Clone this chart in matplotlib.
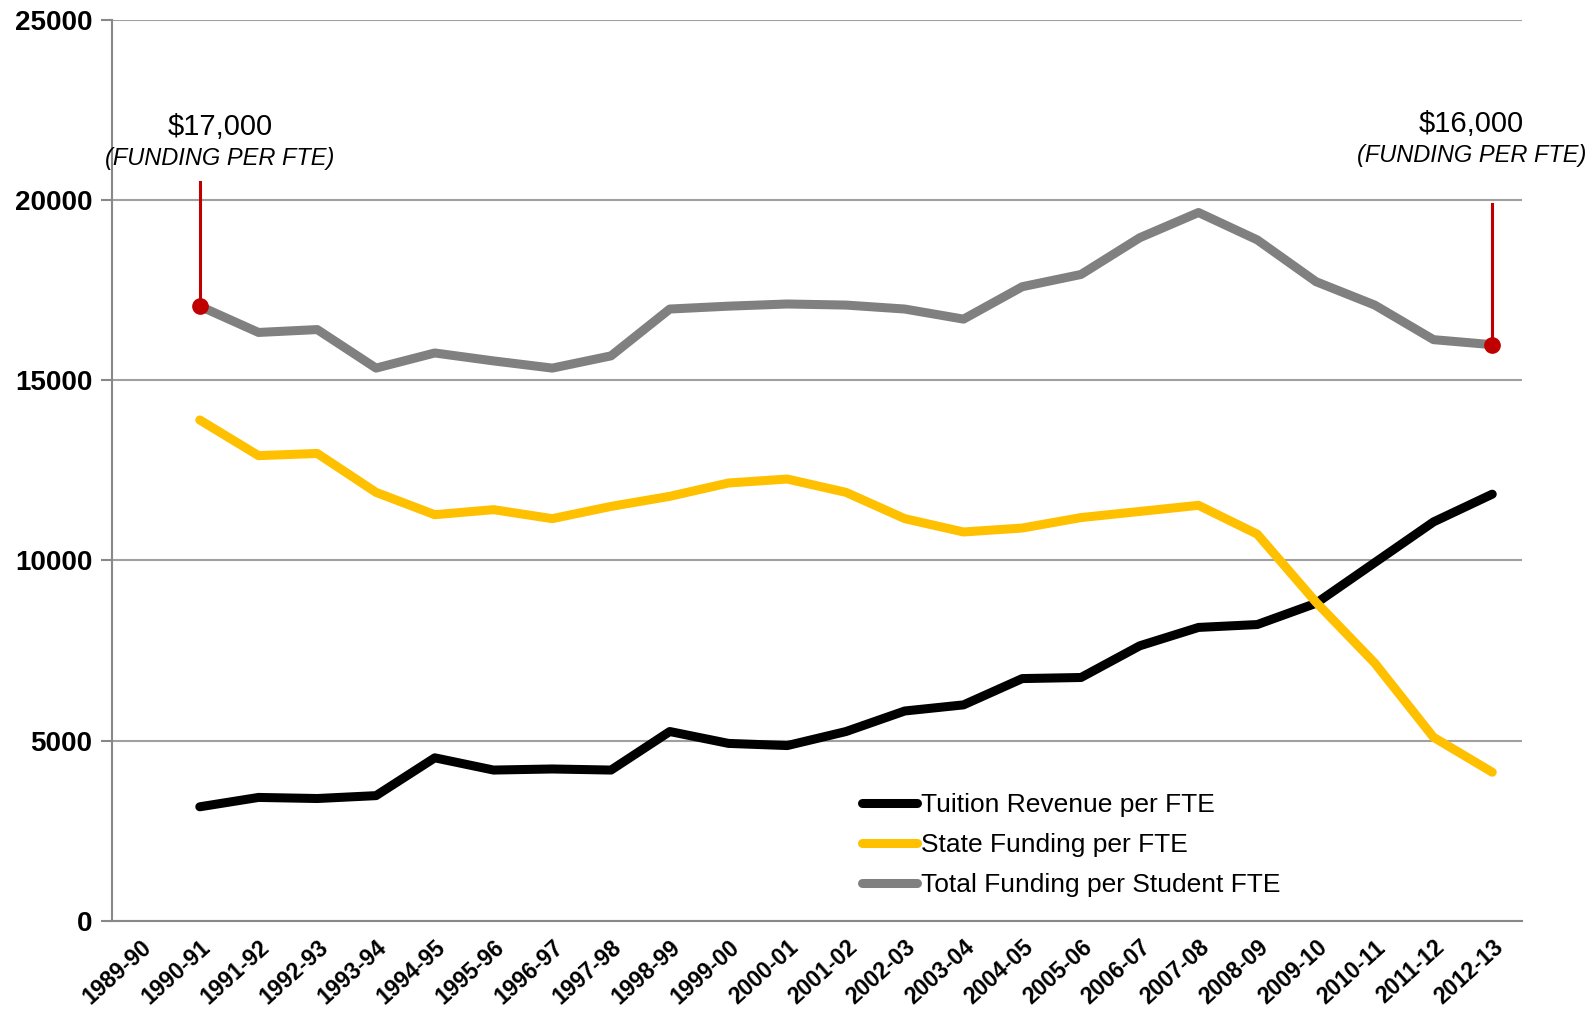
import numpy as np
import matplotlib
matplotlib.use("Agg")
import matplotlib.pyplot as plt

plt.rcParams['font.family'] = ['Liberation Sans', 'DejaVu Sans']

years = ['1989-90', '1990-91', '1991-92', '1992-93', '1993-94', '1994-95', '1995-96',
         '1996-97', '1997-98', '1998-99', '1999-00', '2000-01', '2001-02', '2002-03',
         '2003-04', '2004-05', '2005-06', '2006-07', '2007-08', '2008-09', '2009-10',
         '2010-11', '2011-12', '2012-13']

# series start in 1990-91 (first category left empty)
tuition = [3160, 3420, 3390, 3470, 4520, 4180, 4210, 4180, 5250, 4920, 4860, 5250,
           5820, 5990, 6720, 6750, 7630, 8140, 8220, 8810, 9940, 11070, 11840]
state = [13900, 12910, 12970, 11890, 11270, 11410, 11160, 11500, 11780, 12150, 12260,
         11890, 11160, 10790, 10900, 11190, 11360, 11530, 10730, 8840, 7150, 5090, 4120]
total = [17060, 16330, 16410, 15340, 15760, 15540, 15340, 15680, 16980, 17060, 17120,
         17090, 16980, 16700, 17600, 17940, 18960, 19660, 18900, 17740, 17090, 16130, 15990]

# (label, category index, value, top of red line, text x, text y)
callouts = [('$17,000', 1, 17060, 20500, 1.34, 22030),
            ('$16,000', 23, 15990, 19900, 22.65, 22120)]

fig = plt.figure(figsize=(15.95, 10.09), dpi=100)
ax = fig.add_axes([0.070, 0.0876, 0.884, 0.8924])

x = np.arange(1, len(years))
ax.plot(x, tuition, color='black', lw=6.5, solid_capstyle='round', solid_joinstyle='round',
        label='Tuition Revenue per FTE', zorder=3)
ax.plot(x, state, color='#FFC000', lw=6.5, solid_capstyle='round', solid_joinstyle='round',
        label='State Funding per FTE', zorder=3)
ax.plot(x, total, color='#808080', lw=6.5, solid_capstyle='round', solid_joinstyle='round',
        label='Total Funding per Student FTE', zorder=3)

ax.set_xlim(-0.5, len(years) - 0.5)
ax.set_ylim(0, 25000)
ax.set_yticks(np.arange(0, 25001, 5000))
ax.set_xticks(np.arange(len(years)))
ax.set_xticklabels(years, rotation=42, ha='right', va='top', rotation_mode='anchor',
                   fontsize=16.5, fontweight='bold')
for lab in ax.get_yticklabels():
    lab.set_fontweight('bold')
ax.tick_params(axis='y', labelsize=20, length=8, color='#888888', width=1.5, pad=6)
ax.tick_params(axis='x', length=0, pad=11)

ax.grid(axis='y', color='#a0a0a0', lw=1.5)
ax.set_axisbelow(True)
for s in ['top', 'right']:
    ax.spines[s].set_visible(False)
for s in ['left', 'bottom']:
    ax.spines[s].set_color('#888888')
    ax.spines[s].set_linewidth(1.5)

# red callouts
for txt, xi, yv, ytop, tx, ty in callouts:
    ax.plot([xi, xi], [yv, ytop], color='#C00000', lw=2.2, zorder=4)
    ax.plot(xi, yv, 'o', color='#C00000', ms=11, zorder=5)
    ax.text(tx, ty, txt, ha='center', va='center', fontsize=21)
    ax.text(tx, ty - 870, '(FUNDING PER FTE)', ha='center', va='center', fontsize=17,
            style='italic', clip_on=False)

ax.legend(loc='lower left', bbox_to_anchor=(0.515, 0.0), frameon=False, fontsize=19,
          handlelength=2.1, handletextpad=0.15, labelspacing=0.6)

plt.savefig('out.png', dpi=100)
